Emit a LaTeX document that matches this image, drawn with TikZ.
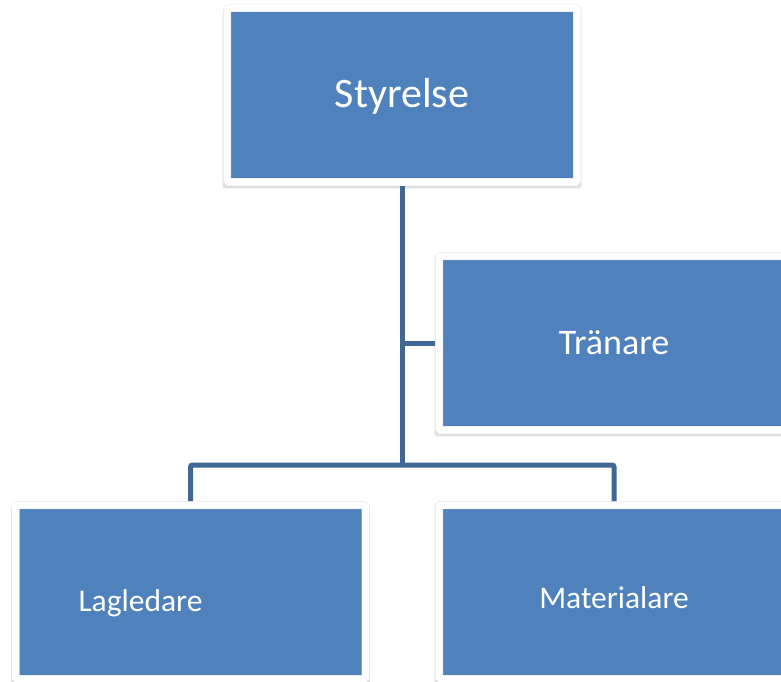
\documentclass[tikz,border=0pt]{standalone}
\usepackage{fontspec}
\setmainfont{Carlito}
\usetikzlibrary{
    shadows,
    positioning,
}
\definecolor{boxblue}{HTML}{4F81BD}
\definecolor{linkblue}{HTML}{3F6896}
\tikzset{
    orgbox/.style={
            rectangle,
            fill=boxblue,
            draw=black!10,
            double=white,
            double distance=7pt,
            line width=0.5pt,
            rounded corners=1.5pt,
            minimum width=350,
            minimum height=174,
            inner sep=0pt,
            outer sep=4pt,
            text=white,
            drop shadow={
                    shadow xshift=0pt,
                    shadow yshift=-4pt,
                    shadow scale=1.025,
                    opacity=0.25,
                },
        }
}
\tikzset{
    orglink/.style={
            draw=linkblue,
            line width=5pt,
            rounded corners=2pt,
        }
}

\begin{document}
\begin{tikzpicture}[x=1pt, y=-1pt]
    \clip (0,0) rectangle (781,682);

    % styrelse
    \node[
        orgbox,
        font=\fontsize{42pt}{50pt}\selectfont,
    ] (S) at (402,95) {\raisebox{-13pt}[0pt][0pt]{Styrelse}};

    % tranare
    \node[
        orgbox,
        font=\fontsize{36pt}{43pt}\selectfont,
    ] (T) at (614,343) {\raisebox{-11.5pt}[0pt][0pt]{Tränare}};

    % lagledare
    \node[
        orgbox,
        font=\fontsize{31.5pt}{38pt}\selectfont,
        align=left,
        inner xsep=63pt,
        text width=224pt,
    ] (L) at (190.5,592) {\raisebox{-19pt}[0pt][0pt]{Lagledare}};

    % materialare
    \node[
        orgbox,
        font=\fontsize{31.5pt}{38pt}\selectfont,
    ] (M) at (614,592) {\raisebox{-16pt}[0pt][0pt]{Materialare}};

    % branch point
    \coordinate (B) at (402,465);

    % styrelse -> branch
    \draw[orglink] (S.south) -- (S.south |- B);

    % trunk -> tranare
    \draw[orglink] (S.south |- T.west) -- (T.west);

    % branch -> lagledare, materialare
    \draw[orglink] (L.north) -- (L.north |- B) -| (M.north);
\end{tikzpicture}
\end{document}
